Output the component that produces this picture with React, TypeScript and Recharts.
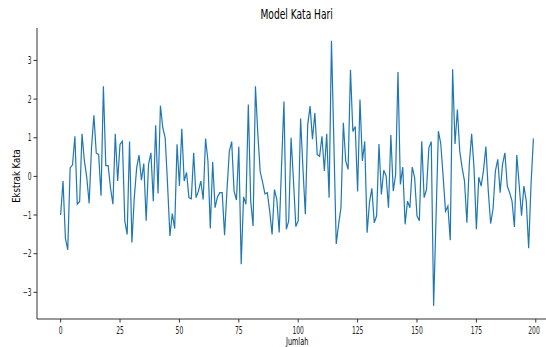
import React from "react";
import { LineChart, Line, XAxis, YAxis } from "recharts";

// values, index 0..199
const values: number[] = [
  -1.0, -0.12, -1.6, -1.9, 0.22, 0.3, 1.04, -0.72, -0.65, 1.1,
  0.4, -0.03, -0.7, 0.75, 1.58, 0.6, 0.57, -0.5, 2.33, 0.28,
  0.28, -0.3, -0.72, 1.1, -0.12, 0.83, 0.91, -1.15, -1.5, 0.9,
  -1.71, -0.55, 0.22, 0.55, -0.1, 0.33, -1.15, 0.31, 0.61, -0.64,
  1.32, -0.44, 1.83, 1.26, 1.0, -0.2, -1.54, -0.96, -1.35, 0.83,
  -0.25, 1.23, -0.12, 0.1, -0.55, -0.58, 0.61, -0.55, -0.38, -0.12,
  -0.6, 0.98, 0.4, -1.35, 0.37, -0.81, -0.53, -0.42, -0.42, -1.52,
  -0.38, 0.65, 0.9, -0.38, -0.61, 0.77, -2.27, -0.53, -0.72, 1.86,
  -0.64, -1.28, 2.33, 1.1, 0.12, -0.15, -0.45, -0.42, -0.9, -1.5,
  -0.34, -0.6, -1.45, 0.3, 1.94, -1.37, -1.15, 1.0, -0.1, -1.3,
  -1.15, 1.5, 0.2, -0.98, 1.34, 1.82, 0.96, 1.64, 0.57, 0.52,
  1.04, 0.14, 1.1, -0.55, 3.51, 0.9, -1.75, -1.24, -0.81, 1.39,
  0.4, 0.18, 2.76, 1.16, 1.29, -0.39, 1.99, 0.4, 0.9, -1.46,
  -0.68, -0.31, -1.2, -1.02, 0.84, -0.47, 0.16, 0.01, -0.81, 1.07,
  -0.38, 0.05, 2.7, -0.21, 0.24, -1.24, -0.64, -0.81, 0.24, -0.03,
  -1.02, -1.15, 0.91, -0.55, -0.34, 0.74, 0.9, -3.35, -1.1, 1.17,
  0.85, 0.0, -0.9, -0.77, -1.65, 2.77, 0.84, 1.73, 0.65, 0.22,
  -0.12, -1.2, 0.31, 1.1, 0.22, -1.37, -0.02, -0.25, 0.16, 0.77,
  -0.38, -1.22, -0.85, 0.14, 0.44, -0.42, 0.31, 0.61, -0.25, -0.42,
  -0.64, -1.31, 0.55, -0.21, -1.02, -0.25, -0.64, -1.86, -0.21, 0.98,
];

const xTicks = [0, 25, 50, 75, 100, 125, 150, 175, 200];
const yTicks = [-3, -2, -1, 0, 1, 2, 3];

const data = values.map((v, i) => ({ idx: i, val: v }));

const FONT = "'DejaVu Sans', sans-serif";
const INK = "#333";

const fmt = (n: number) => (n < 0 ? "\u2212" + Math.abs(n) : String(n));

const XTick = (props: any) => {
  const { x, y, payload } = props;
  return (
    <g transform={`translate(${x},${y})`}>
      <text transform="scale(0.6,1)" textAnchor="middle" dy={9} fontSize={10} fontFamily={FONT} fill="#222">
        {fmt(payload.value)}
      </text>
    </g>
  );
};

const YTick = (props: any) => {
  const { x, y, payload } = props;
  return (
    <g transform={`translate(${x},${y})`}>
      <text transform="scale(0.6,1)" textAnchor="end" dy={3.5} fontSize={10} fontFamily={FONT} fill="#222">
        {fmt(payload.value)}
      </text>
    </g>
  );
};

export default function App() {
  return (
    <div style={{ position: "absolute", left: 0, top: 0, width: 546, height: 347, overflow: "hidden", background: "#fff" }}>
      <LineChart width={546} height={347} data={data} margin={{ top: 28, right: 0, left: 0, bottom: 0 }}>
        <XAxis
          dataKey="idx"
          type="number"
          domain={[-9.95, 204.3]}
          ticks={xTicks}
          allowDataOverflow
          height={28}
          tickSize={3.5}
          tickMargin={2}
          stroke={INK}
          tick={<XTick />}
        />
        <XAxis xAxisId="top" orientation="top" dataKey="idx" type="number" domain={[-9.95, 204.3]} height={0} tick={false} tickLine={false} stroke={INK} />
        <YAxis
          type="number"
          domain={[-3.69, 3.84]}
          ticks={yTicks}
          allowDataOverflow
          width={37}
          tickSize={3.5}
          tickMargin={2}
          stroke={INK}
          tick={<YTick />}
        />
        <Line type="linear" dataKey="val" stroke="#1f77b4" strokeWidth={1.2} dot={false} isAnimationActive={false} />
      </LineChart>
      <div style={{ position: "absolute", left: 197, width: 200, top: 6, textAlign: "center", fontFamily: FONT, fontSize: 14, color: "#000" }}>
        <span style={{ display: "inline-block", transform: "scaleX(0.65)" }}>Model Kata Hari</span>
      </div>
      <div style={{ position: "absolute", left: 247, width: 100, top: 336, textAlign: "center", fontFamily: FONT, fontSize: 10, color: "#000" }}>
        <span style={{ display: "inline-block", transform: "scaleX(0.65)" }}>Jumlah</span>
      </div>
      <div style={{ position: "absolute", left: -33, width: 100, top: 170, textAlign: "center", fontFamily: FONT, fontSize: 10, lineHeight: "12px", color: "#000", transform: "rotate(-90deg) scaleX(0.85)" }}>
        Ekstrak Kata
      </div>
    </div>
  );
}
